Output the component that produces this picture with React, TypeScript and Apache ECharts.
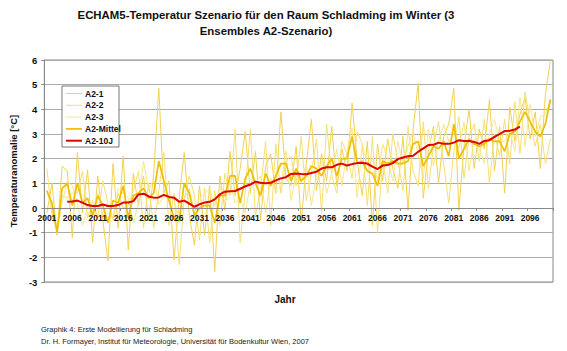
import React, { useEffect, useRef } from "react";
import * as echarts from "echarts";

const years: string[] = [];
for (let y = 2001; y <= 2100; y++) years.push(String(y));

const a2_1 = [
  -0.2, 1.0, -1.1, 1.7, 1.5, -1.2, 2.25, -0.2, 1.55, -1.4,
  1.3, -0.5, -2.15, 1.8, -0.8, 2.1, -1.7, 1.4, 0.1, 1.3,
  -0.5, 1.4, 4.85, 0.6, 1.1, -2.1, 0.4, 2.25, -0.3, -1.5,
  0.9, -1.1, 0.9, -2.58, 1.3, -0.1, 2.3, 0.5, 1.6, 3.1,
  0.6, 2.3, -0.5, 1.7, 2.2, 0.6, 3.9, 1.2, 0.9, 2.5,
  -0.6, 1.8, 3.6, 0.7, 2.2, 1.1, 3.3, 0.9, 2.4, 1.5,
  4.25, 1.9, 0.5, 2.7, -0.7, 2.6, 1.1, 2.8, 1.6, 0.8,
  2.9, -0.1, 3.2, 5.05, 0.4, 2.3, 3.3, 1.0, 2.9, 3.4,
  4.85, -0.1, 2.5, 4.0, 1.6, 3.2, 2.4, 4.4, 1.5, 3.3,
  0.6, 4.1, 2.7, 3.8, 4.5, 2.8, 3.9, 1.6, 4.6, 6.0,
];
const a2_2 = [
  1.6, -0.3, -0.9, 0.5, 0.4, 0.6, 0.6, 1.5, -0.4, 0.3,
  -0.4, 1.1, 0.2, -0.5, 0.6, 0.0, 0.1, 0.7, 1.5, -0.8,
  1.0, -0.8, 0.7, 2.25, -0.7, 0.6, -2.3, 0.4, 1.3, 0.5,
  -1.3, 0.8, -1.4, 0.7, -0.7, 1.4, 0.5, 3.2, -1.4, 0.7,
  3.2, -0.3, 0.7, 2.7, -0.7, 2.6, 0.6, 1.9, 2.1, 0.9,
  2.9, 0.3, 1.4, 2.8, -0.2, 3.4, 1.3, 0.6, 2.7, 2.2,
  1.2, 3.1, 2.6, 0.1, 2.9, -1.0, 2.0, 0.6, 3.0, 1.9,
  0.7, 3.3, 1.5, 0.9, 3.5, 0.8, 2.5, 3.5, 1.8, 0.2,
  2.3, 3.7, 1.2, 2.9, 3.4, 1.9, 3.6, 1.0, 3.0, 2.1,
  3.6, 1.8, 4.3, 2.2, 4.7, 3.5, 2.5, 3.4, 1.8, 2.8,
];
const a2_3 = [
  0.7, -0.1, -1.0, 0.2, 1.1, 0.9, 0.15, -0.7, 0.05, -0.1,
  0.6, -0.3, 0.15, -0.4, 0.8, 0.6, 0.4, -0.6, 0.2, 1.9,
  0.7, 1.2, 0.15, 0.45, 0.5, 0.3, -0.6, 0.35, 0.8, -0.2,
  0.4, 0.6, 0.8, 0.08, 0.9, 0.2, 1.1, 0.2, 0.4, -0.2,
  1.0, 1.0, 1.3, -0.2, 1.2, 0.7, 0.9, 2.3, 0.3, 1.4,
  1.0, 1.8, 0.1, 1.3, 1.9, 0.6, 1.4, 2.4, 0.9, 2.3,
  3.25, 0.4, 2.6, 1.7, 2.0, 1.1, 2.6, 2.0, 1.1, 2.7,
  1.8, 2.5, 3.1, 2.15, 1.2, 3.2, 1.7, 2.7, 3.4, 2.7,
  3.05, 2.4, 3.5, 1.5, 2.8, 2.4, 1.8, 3.0, 3.6, 2.7,
  2.7, 3.1, 2.3, 4.5, 2.5, 4.2, 2.9, 3.7, 3.8, 4.4,
];
const a2_mittel = [
  0.7, 0.2, -1.0, 0.8, 1.0, 0.1, 1.0, 0.2, 0.4, -0.3,
  0.5, 0.1, -0.6, 0.3, 0.2, 0.9, -0.4, 0.5, 0.6, 0.8,
  0.4, 0.6, 1.9, 1.1, 0.3, -0.4, -0.5, 1.0, 0.6, -0.3,
  0.0, 0.1, 0.1, -0.6, 0.5, 0.5, 1.3, 1.3, 0.2, 1.2,
  1.6, 1.0, 0.5, 1.4, 0.9, 1.3, 1.8, 1.8, 1.1, 1.6,
  1.1, 1.3, 1.7, 1.6, 1.3, 1.7, 2.0, 1.3, 2.0, 2.0,
  2.9, 1.8, 1.9, 1.5, 1.4, 0.9, 1.9, 1.8, 1.9, 1.8,
  1.8, 1.9, 2.6, 2.7, 1.7, 2.1, 2.5, 2.4, 2.7, 2.1,
  3.4, 2.0, 2.4, 2.8, 2.6, 2.5, 2.6, 2.8, 2.7, 2.7,
  2.3, 3.0, 3.1, 3.5, 3.9, 3.5, 3.1, 2.9, 3.4, 4.4,
];
const a2_10j: (number | null)[] = [
  null, null, null, null,
  0.25, 0.26, 0.3, 0.22, 0.12, 0.08,
  0.08, 0.14, 0.08, 0.08, 0.12, 0.22, 0.22, 0.28, 0.55, 0.58,
  0.47, 0.42, 0.43, 0.53, 0.45, 0.42, 0.25, 0.3, 0.18, 0.05,
  0.15, 0.22, 0.25, 0.35, 0.55, 0.66, 0.68, 0.69, 0.78, 0.88,
  0.95, 1.07, 1.02, 1.0, 1.02, 1.12, 1.2, 1.25, 1.38, 1.4,
  1.38, 1.37, 1.42, 1.47, 1.6, 1.65, 1.65, 1.75, 1.8, 1.72,
  1.78, 1.82, 1.82, 1.8, 1.68, 1.58, 1.72, 1.74, 1.82, 1.98,
  2.05, 2.1, 2.12, 2.28, 2.42, 2.55, 2.56, 2.65, 2.6, 2.6,
  2.65, 2.75, 2.72, 2.72, 2.68, 2.6, 2.72, 2.75, 2.88, 3.0,
  3.12, 3.13, 3.18, 3.3,
  null, null, null, null, null, null,
];

const seriesNames = ["A2-1", "A2-2", "A2-3", "A2-Mittel", "A2-10J"];
const seriesColors = ["#f2d24e", "#f6df72", "#f8e688", "#efbf00", "#e00000"];
const seriesWidths = [1, 1, 1, 1.7, 2];

const titleText =
  "ECHAM5-Temperatur Szenario für den Raum Schladming im Winter (3\nEnsembles A2-Szenario)";
const yName = "Temperaturanomalie [°C]";
const xName = "Jahr";
const foot1 = "Graphik 4: Erste Modellierung für Schladming";
const foot2 =
  "Dr. H. Formayer, Institut für Meteorologie, Universität für Bodenkultur Wien, 2007";

export default function App() {
  const ref = useRef<HTMLDivElement>(null);
  useEffect(() => {
    if (!ref.current) return;
    const chart = echarts.init(ref.current, null, { renderer: "svg" });
    const font = "Arial, 'Liberation Sans', sans-serif";
    const dataSets = [a2_1, a2_2, a2_3, a2_mittel, a2_10j];

    const legendX = 62;
    const legendY = 86;
    const legendRow = 11.8;
    const legendGraphics: any[] = [
      {
        type: "rect",
        shape: { x: legendX, y: legendY, width: 57, height: 61 },
        style: { fill: "#fff", stroke: "#777", lineWidth: 1 },
        z: 10,
      },
    ];
    seriesNames.forEach((n, i) => {
      const cy = legendY + 7.5 + i * legendRow;
      legendGraphics.push({
        type: "line",
        shape: { x1: legendX + 4, y1: cy, x2: legendX + 20, y2: cy },
        style: { stroke: seriesColors[i], lineWidth: seriesWidths[i] },
        z: 11,
      });
      legendGraphics.push({
        type: "text",
        x: legendX + 23,
        y: cy,
        style: {
          text: n,
          fontSize: 8.5,
          fontWeight: "bold",
          fill: "#111",
          fontFamily: font,
          verticalAlign: "middle",
        },
        z: 11,
      });
    });

    chart.setOption({
      animation: false,
      backgroundColor: "#fff",
      textStyle: { fontFamily: font },
      title: {
        text: titleText,
        left: 261,
        textAlign: "center",
        top: 2,
        textStyle: {
          fontSize: 11.4,
          fontWeight: "bold",
          color: "#111",
          lineHeight: 16,
          fontFamily: font,
        },
      },
      grid: {
        left: 39,
        right: 14,
        top: 60,
        bottom: 69,
        show: true,
        borderColor: "#888",
        borderWidth: 1,
      },
      xAxis: {
        type: "category",
        data: years,
        boundaryGap: true,
        offset: -74,
        z: 10,
        axisLine: { onZero: false, lineStyle: { color: "#888", width: 1 } },
        axisTick: { show: true, interval: 4, length: 3, lineStyle: { color: "#888" } },
        axisLabel: {
          interval: 4,
          fontSize: 8.5,
          fontWeight: "bold",
          color: "#111",
          margin: 5,
          fontFamily: font,
        },
        splitLine: { show: false },
      },
      yAxis: {
        type: "value",
        min: -3,
        max: 6,
        interval: 1,
        name: yName,
        nameLocation: "middle",
        nameGap: 24,
        nameTextStyle: { fontSize: 9.5, fontWeight: "bold", color: "#111", fontFamily: font },
        axisLine: { show: true, lineStyle: { color: "#888" } },
        axisTick: { show: true, length: 3, lineStyle: { color: "#888" } },
        axisLabel: { fontSize: 9.5, fontWeight: "bold", color: "#111", margin: 7, fontFamily: font },
        splitLine: { show: true, lineStyle: { color: "#aaa", width: 1 } },
      },
      series: seriesNames.map((n, i) => ({
        name: n,
        type: "line",
        data: dataSets[i],
        symbol: "none",
        connectNulls: false,
        lineStyle: { width: seriesWidths[i], color: seriesColors[i] },
        itemStyle: { color: seriesColors[i] },
        z: i < 3 ? 2 : i,
      })),
      graphic: [
        {
          type: "text",
          x: 285,
          y: 294,
          style: {
            text: xName,
            fontSize: 10,
            fontWeight: "bold",
            fill: "#111",
            fontFamily: font,
            textAlign: "center",
          },
        },
        {
          type: "text",
          x: 41,
          y: 325,
          style: { text: foot1, fontSize: 7.5, fill: "#222", fontFamily: font },
        },
        {
          type: "text",
          x: 41,
          y: 337,
          style: { text: foot2, fontSize: 7.5, fill: "#222", fontFamily: font },
        },
        ...legendGraphics,
      ],
    });
    return () => chart.dispose();
  }, []);
  return (
    <div
      ref={ref}
      style={{ position: "absolute", left: 0, top: 0, width: 567, height: 351 }}
    />
  );
}
